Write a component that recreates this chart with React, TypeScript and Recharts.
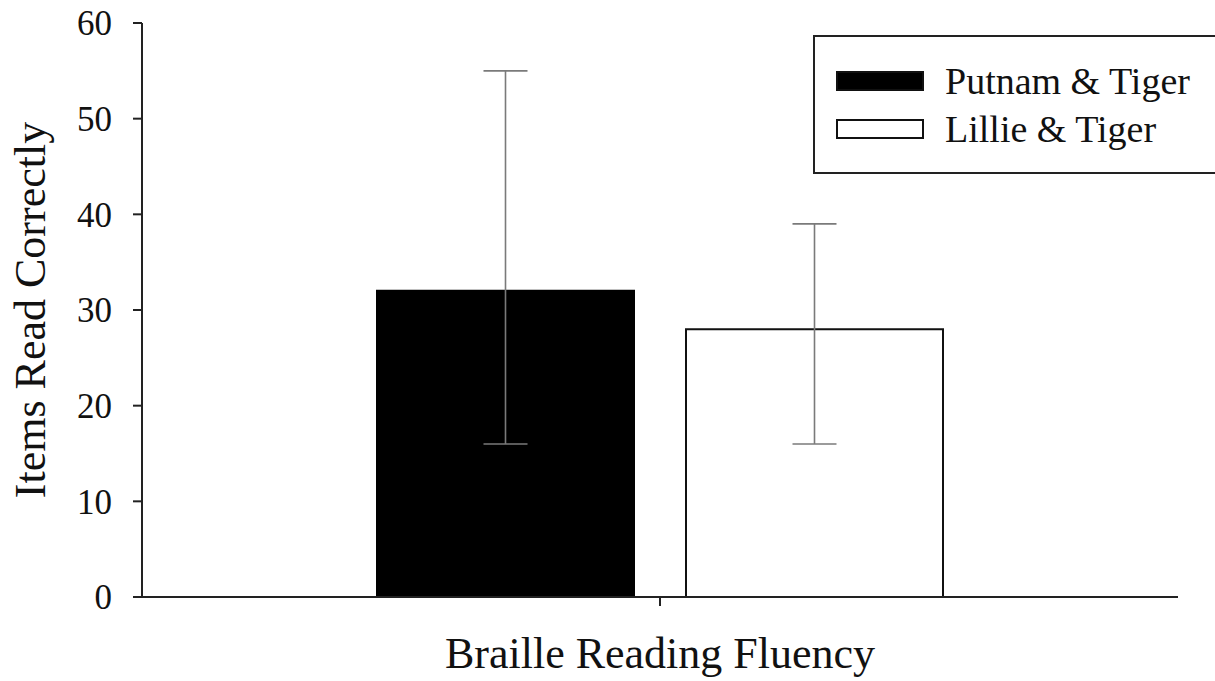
import React from 'react';
import { BarChart, Bar, XAxis, YAxis, ErrorBar } from 'recharts';

const categories = ['Braille Reading Fluency'];
const seriesNames = ['Putnam & Tiger', 'Lillie & Tiger'];
const putnamValues = [32];
const putnamLow = [16];
const putnamHigh = [55];
const lillieValues = [28];
const lillieLow = [16];
const lillieHigh = [39];
const yTicks = [0, 10, 20, 30, 40, 50, 60];

const FONT = '"Liberation Serif", "Times New Roman", serif';

const data = categories.map((c, i) => ({
  name: c,
  putnam: putnamValues[i],
  putnamErr: [putnamValues[i] - putnamLow[i], putnamHigh[i] - putnamValues[i]],
  lillie: lillieValues[i],
  lillieErr: [lillieValues[i] - lillieLow[i], lillieHigh[i] - lillieValues[i]],
}));

const swatchFills = ['#000000', '#ffffff'];

const YLabel = (props: any) => {
  const vb = props.viewBox || {};
  const cx = 45;
  const cy = (vb.y ?? 23) + (vb.height ?? 574) / 2;
  return (
    <text
      x={cx}
      y={cy}
      transform={`rotate(-90, ${cx}, ${cy})`}
      textAnchor="middle"
      fontFamily={FONT}
      fontSize={44}
      fill="#111"
    >
      Items Read Correctly
    </text>
  );
};

export default function App() {
  return (
    <div style={{ position: 'absolute', left: 0, top: 0, width: 1215, height: 681, background: '#fff' }}>
      <BarChart
        width={1215}
        height={681}
        data={data}
        margin={{ top: 23, right: 37, bottom: 0, left: 0 }}
        barCategoryGap={235}
        barGap={52}
      >
        <XAxis
          dataKey="name"
          height={84}
          stroke="#222"
          strokeWidth={2}
          tickSize={9}
          tick={() => <g />}
          label={{
            value: categories[0],
            position: 'insideBottom',
            offset: 13,
            fontFamily: FONT,
            fontSize: 44,
            fill: '#111',
          }}
        />
        <YAxis
          width={142}
          domain={[0, 60]}
          ticks={yTicks}
          interval={0}
          stroke="#222"
          strokeWidth={2}
          tickSize={9}
          tickMargin={21}
          tick={{ fontFamily: FONT, fontSize: 35, fill: '#111' }}
          label={<YLabel />}
        />
        <Bar dataKey="putnam" name={seriesNames[0]} fill="#000" stroke="#000" strokeWidth={2} barSize={257} isAnimationActive={false}>
          <ErrorBar dataKey="putnamErr" width={22} stroke="#7a7a7a" strokeWidth={1.6} direction="y" isAnimationActive={false} />
        </Bar>
        <Bar dataKey="lillie" name={seriesNames[1]} fill="#fff" stroke="#111" strokeWidth={2} barSize={257} isAnimationActive={false}>
          <ErrorBar dataKey="lillieErr" width={22} stroke="#7a7a7a" strokeWidth={1.6} direction="y" isAnimationActive={false} />
        </Bar>
      </BarChart>
      <div
        style={{
          position: 'absolute',
          left: 813,
          top: 35,
          width: 402,
          height: 139,
          boxSizing: 'border-box',
          border: '2px solid #222',
          borderRightWidth: 0,
          background: '#fff',
          fontFamily: FONT,
        }}
      >
        {seriesNames.map((n, i) => (
          <div
            key={n}
            style={{
              position: 'absolute',
              left: 21,
              top: 34 + i * 48,
              display: 'flex',
              alignItems: 'center',
              height: 20,
            }}
          >
            <div
              style={{
                width: 88,
                height: 20,
                boxSizing: 'border-box',
                background: swatchFills[i],
                border: '2px solid #111',
              }}
            />
            <span style={{ marginLeft: 21, fontSize: 38, color: '#111', whiteSpace: 'nowrap', lineHeight: '20px' }}>
              {n}
            </span>
          </div>
        ))}
      </div>
    </div>
  );
}
